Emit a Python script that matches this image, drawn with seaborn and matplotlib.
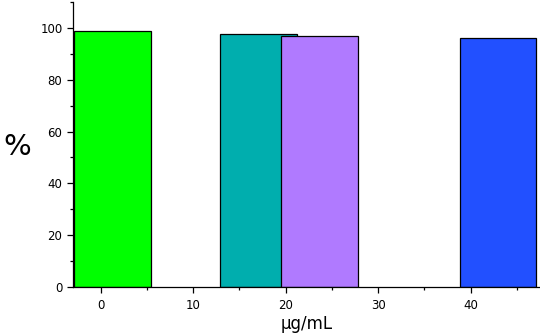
import numpy as np
import matplotlib
matplotlib.use("Agg")
import matplotlib.pyplot as plt
import seaborn as sns
from matplotlib.ticker import MultipleLocator

# bar left edges on the concentration axis, and viability (%)
bar_left = [-2.9, 12.9, 19.5, 38.8]
bar_width = 8.3
viability = [98.8, 97.5, 97.0, 96.2]
colors = ["#00FF00", "#00AEAE", "#B07AFF", "#2250FF"]

sns.set_style("ticks")
plt.rcParams["font.family"] = ["DejaVu Sans"]
plt.rcParams["text.color"] = "black"
plt.rcParams["axes.labelcolor"] = "black"

fig = plt.figure(figsize=(5.4, 3.34), dpi=100)
ax = fig.add_axes([0.135, 0.141, 0.865, 0.853])

ax.bar(bar_left, viability, width=bar_width, align="edge",
       color=colors, edgecolor="black", linewidth=0.9, zorder=2)

ax.set_xlim(-3.0, 47.5)
ax.set_ylim(0, 110)
ax.xaxis.set_major_locator(MultipleLocator(10))
ax.xaxis.set_minor_locator(MultipleLocator(5))
ax.yaxis.set_minor_locator(MultipleLocator(10))
ax.set_yticks([0, 20, 40, 60, 80, 100])

ax.tick_params(axis="both", which="major", length=4, width=0.9, labelsize=8.5,
               colors="black", labelcolor="black")
ax.tick_params(axis="both", which="minor", length=2.5, width=0.9, colors="black")
ax.tick_params(axis="x", pad=5)

ax.set_xlabel("μg/mL", fontsize=12, labelpad=2)
ax.set_ylabel("%", fontsize=21, rotation=0, va="center", ha="center")
ax.yaxis.set_label_coords(-0.12, 0.49)

sns.despine(ax=ax)
for s in ["left", "bottom"]:
    ax.spines[s].set_linewidth(0.9)
    ax.spines[s].set_color("black")

fig.savefig("out.png", dpi=100)
